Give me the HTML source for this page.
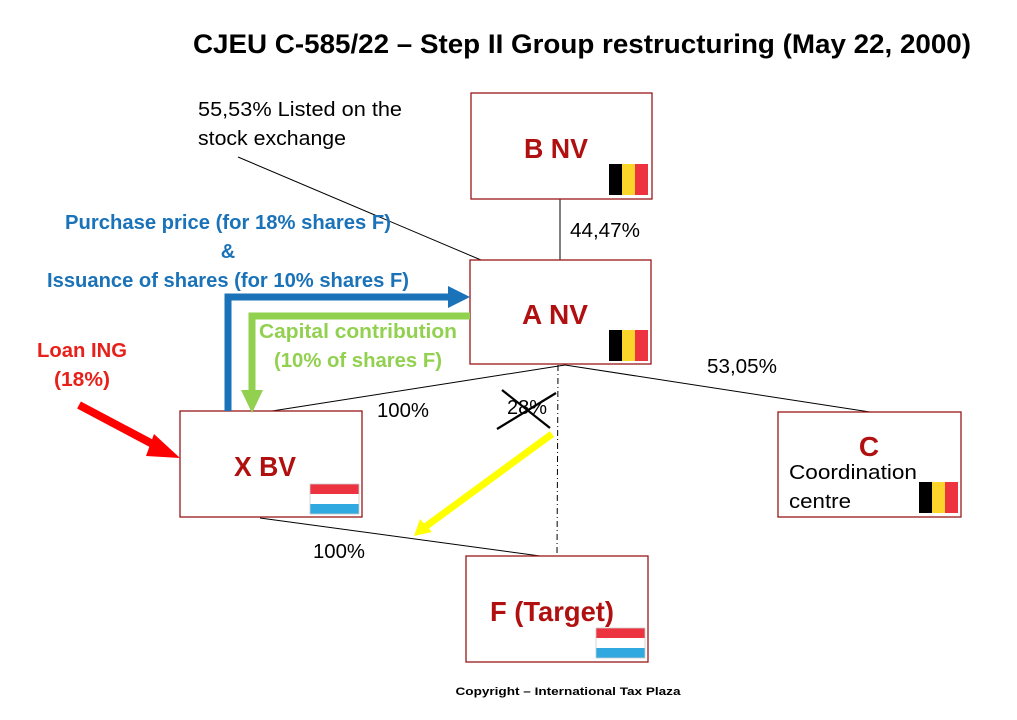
<!DOCTYPE html>
<html><head><meta charset="utf-8"><style>
html,body{margin:0;padding:0;background:#fff}
svg{display:block}
text{font-family:"Liberation Sans",sans-serif}
</style></head><body>
<svg width="1017" height="720" viewBox="0 0 1017 720" xmlns="http://www.w3.org/2000/svg">
<defs>
<g id="be"><rect x="0" y="0" width="13" height="31" fill="#000"/><rect x="13" y="0" width="13" height="31" fill="#fcd52b"/><rect x="26" y="0" width="13" height="31" fill="#ee3340"/></g>
<g id="nl"><rect x="0" y="0" width="49" height="10" fill="#ee3340"/><rect x="0" y="10" width="49" height="10" fill="#fff"/><rect x="0" y="20" width="49" height="10" fill="#30a8e0"/><rect x="0" y="0" width="49" height="30" fill="none" stroke="#ccc" stroke-width="0.8"/></g>
</defs>
<text x="582" y="53" font-size="27" font-weight="bold" text-anchor="middle" textLength="778" lengthAdjust="spacingAndGlyphs">CJEU C-585/22 – Step II Group restructuring (May 22, 2000)</text>

<g stroke="#000" stroke-width="1" fill="none">
<line x1="238" y1="157" x2="481" y2="260"/>
<line x1="560" y1="199" x2="560" y2="260"/>
<line x1="565" y1="365" x2="870" y2="412"/>
<line x1="565" y1="365" x2="272" y2="411"/>
<line x1="260" y1="518" x2="540" y2="556"/>
<line x1="558" y1="365" x2="557" y2="556" stroke-dasharray="6,3,1,3"/>
</g>

<g fill="#fff" stroke="#9a1818" stroke-width="1.3">
<rect x="471" y="93" width="181" height="106"/>
<rect x="470" y="260" width="181" height="104"/>
<rect x="180" y="411" width="182" height="106"/>
<rect x="778" y="412" width="183" height="105"/>
<rect x="466" y="556" width="182" height="106"/>
</g>
<use href="#be" x="609" y="164"/>
<use href="#be" x="609" y="330"/>
<use href="#nl" x="310" y="484"/>
<use href="#be" x="919" y="482"/>
<use href="#nl" x="596" y="628"/>

<g fill="#b01010" font-weight="bold" font-size="28" text-anchor="middle">
<text x="556" y="158" textLength="64" lengthAdjust="spacingAndGlyphs">B NV</text>
<text x="555" y="324" textLength="66" lengthAdjust="spacingAndGlyphs">A NV</text>
<text x="265" y="476" textLength="62" lengthAdjust="spacingAndGlyphs">X BV</text>
<text x="869" y="456">C</text>
<text x="552" y="621" textLength="124" lengthAdjust="spacingAndGlyphs">F (Target)</text>
</g>
<g font-size="20" fill="#000">
<text x="789" y="479" textLength="128" lengthAdjust="spacingAndGlyphs">Coordination</text>
<text x="789" y="508" textLength="62" lengthAdjust="spacingAndGlyphs">centre</text>
</g>

<g font-size="20" fill="#000">
<text x="198" y="116" textLength="204" lengthAdjust="spacingAndGlyphs">55,53% Listed on the</text>
<text x="198" y="145" textLength="148" lengthAdjust="spacingAndGlyphs">stock exchange</text>
<text x="570" y="237" textLength="70" lengthAdjust="spacingAndGlyphs">44,47%</text>
<text x="707" y="373" textLength="70" lengthAdjust="spacingAndGlyphs">53,05%</text>
<text x="377" y="417" textLength="52" lengthAdjust="spacingAndGlyphs">100%</text>
<text x="313" y="558" textLength="52" lengthAdjust="spacingAndGlyphs">100%</text>
<text x="507" y="414" textLength="40" lengthAdjust="spacingAndGlyphs">28%</text>
</g>
<g stroke="#000" stroke-width="2.2">
<line x1="502" y1="390" x2="550" y2="428"/>
<line x1="556" y1="393" x2="497" y2="429"/>
</g>

<g font-weight="bold" font-size="20" fill="#1a72b8" text-anchor="middle">
<text x="228" y="229" textLength="326" lengthAdjust="spacingAndGlyphs">Purchase price (for 18% shares F)</text>
<text x="228" y="258">&amp;</text>
<text x="228" y="287" textLength="362" lengthAdjust="spacingAndGlyphs">Issuance of shares (for 10% shares F)</text>
</g>
<g font-weight="bold" font-size="20" fill="#92d050" text-anchor="middle">
<text x="358" y="338" textLength="198" lengthAdjust="spacingAndGlyphs">Capital contribution</text>
<text x="358" y="367" textLength="168" lengthAdjust="spacingAndGlyphs">(10% of shares F)</text>
</g>
<g font-weight="bold" font-size="20" fill="#e8201a" text-anchor="middle">
<text x="82" y="357" textLength="90" lengthAdjust="spacingAndGlyphs">Loan ING</text>
<text x="82" y="386" textLength="56" lengthAdjust="spacingAndGlyphs">(18%)</text>
</g>

<polyline points="228,411 228,297 452,297" fill="none" stroke="#1a72b8" stroke-width="7"/>
<polygon points="448,286 470,297 448,308" fill="#1a72b8"/>
<polyline points="470,316 252,316 252,392" fill="none" stroke="#92d050" stroke-width="7"/>
<polygon points="241,390 263,390 252,413" fill="#92d050"/>
<line x1="79" y1="405" x2="162" y2="449" stroke="#f00" stroke-width="8"/>
<polygon points="154,434 180,458 146,456" fill="#f00"/>
<line x1="552" y1="434" x2="425" y2="527" stroke="#ffff00" stroke-width="7"/>
<polygon points="414,536 420,519 432,532" fill="#ffff00"/>

<text x="568" y="695" font-size="11" font-weight="bold" text-anchor="middle" textLength="225" lengthAdjust="spacingAndGlyphs">Copyright – International Tax Plaza</text>
</svg>
</body></html>
